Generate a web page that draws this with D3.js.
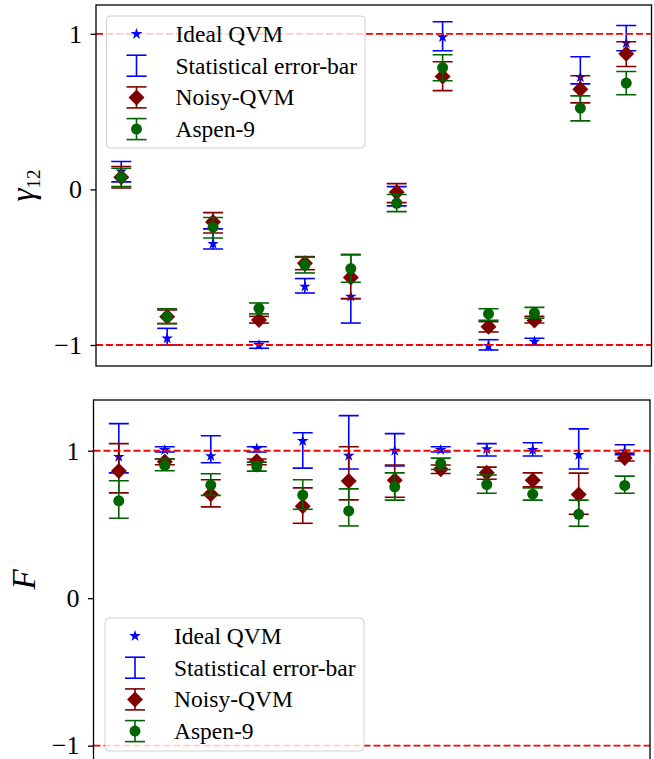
<!DOCTYPE html>
<html lang="en">

<head>
    <meta charset="UTF-8">
    <title>gamma12 and F</title>
    <script src="https://cdn.jsdelivr.net/npm/d3@7"></script>
    <style>
        * {
            margin: 0;
            padding: 0;
        }

        body {
            background: #fff;
        }

        text {
            font-family: "Liberation Serif", "DejaVu Serif", serif;
        }
    </style>
</head>

<body>
</body>
<script>
    const width = 654
    const height = 759

    // index of each run, 0..11
    const runs = d3.range(12)

    // gamma_12 panel
    const gIdeal = [0.115, -0.957, -0.35, -1.0, -0.625, -0.689, -0.044, 0.979, -1.006, -0.979, 0.721, 0.94]
    const gStatLo = [0.048, -1.0, -0.383, -1.021, -0.666, -0.859, -0.106, 0.891, -1.032, -1.0, 0.678, 0.891]
    const gStatHi = [0.179, -0.893, -0.254, -0.979, -0.573, -0.702, 0.018, 1.077, -0.966, -0.957, 0.852, 1.053]
    const gNoisy = [0.078, -0.818, -0.21, -0.839, -0.475, -0.567, -0.018, 0.725, -0.882, -0.843, 0.644, 0.871]
    const gNoisyLo = [0.009, -0.862, -0.28, -0.859, -0.516, -0.702, -0.085, 0.635, -0.916, -0.859, 0.556, 0.79]
    const gNoisyHi = [0.147, -0.775, -0.149, -0.816, -0.432, -0.421, 0.037, 0.82, -0.85, -0.816, 0.73, 0.949]
    const gAspen = [0.078, -0.818, -0.243, -0.764, -0.486, -0.509, -0.089, 0.783, -0.8, -0.794, 0.522, 0.683]
    const gAspenLo = [0.018, -0.863, -0.312, -0.8, -0.537, -0.597, -0.143, 0.698, -0.841, -0.828, 0.44, 0.608]
    const gAspenHi = [0.136, -0.767, -0.181, -0.73, -0.436, -0.417, -0.033, 0.865, -0.767, -0.758, 0.601, 0.758]

    // F panel
    const fIdeal = [0.959, 1.005, 0.964, 1.014, 1.066, 0.966, 1.0, 1.005, 1.011, 1.005, 0.971, 0.996]
    const fStatLo = [0.85, 0.991, 0.918, 0.991, 0.882, 0.876, 0.896, 0.991, 0.964, 0.964, 0.876, 0.973]
    const fStatHi = [1.184, 1.027, 1.102, 1.027, 1.122, 1.238, 1.116, 1.027, 1.048, 1.054, 1.148, 1.041]
    const fNoisy = [0.862, 0.925, 0.705, 0.928, 0.624, 0.794, 0.8, 0.875, 0.85, 0.8, 0.703, 0.95]
    const fNoisyLo = [0.714, 0.905, 0.619, 0.905, 0.508, 0.667, 0.685, 0.846, 0.807, 0.755, 0.569, 0.93]
    const fNoisyHi = [1.048, 0.944, 0.803, 0.944, 0.748, 1.027, 0.903, 0.903, 0.889, 0.85, 0.848, 0.984]
    const fAspen = [0.66, 0.9, 0.767, 0.891, 0.699, 0.592, 0.755, 0.914, 0.771, 0.705, 0.569, 0.765]
    const fAspenLo = [0.542, 0.864, 0.697, 0.862, 0.603, 0.49, 0.665, 0.873, 0.712, 0.665, 0.488, 0.712]
    const fAspenHi = [0.796, 0.944, 0.844, 0.923, 0.803, 0.741, 0.85, 0.95, 0.835, 0.748, 0.665, 0.828]

    const yTicks = [-1, 0, 1]
    const legendLabels = ['Ideal QVM', 'Statistical error-bar', 'Noisy-QVM', 'Aspen-9']

    const blue = '#0000ff'
    const darkred = '#800000'
    const green = '#006400'

    const svg = d3.select('body')
        .append('svg')
        .attr('width', width)
        .attr('height', height)

    const star = d3.symbol().type(d3.symbolStar).size(42)
    const diamond = s => `M0,${-s}L${s},0L0,${s}L${-s},0Z`

    const capHalf = 10

    function errorBars(g, x, y, lo, hi, color) {
        const bars = g.append('g')
            .attr('stroke', color)
            .attr('stroke-width', 1.6)
        bars.selectAll('.bar')
            .data(runs)
            .enter()
            .append('line')
            .attr('x1', i => x(i))
            .attr('x2', i => x(i))
            .attr('y1', i => y(lo[i]))
            .attr('y2', i => y(hi[i]))
        bars.selectAll('.capLo')
            .data(runs)
            .enter()
            .append('line')
            .attr('x1', i => x(i) - capHalf)
            .attr('x2', i => x(i) + capHalf)
            .attr('y1', i => y(lo[i]))
            .attr('y2', i => y(lo[i]))
        bars.selectAll('.capHi')
            .data(runs)
            .enter()
            .append('line')
            .attr('x1', i => x(i) - capHalf)
            .attr('x2', i => x(i) + capHalf)
            .attr('y1', i => y(hi[i]))
            .attr('y2', i => y(hi[i]))
    }

    function legend(box) {
        const lg = svg.append('g')
        lg.append('rect')
            .attr('x', box.x)
            .attr('y', box.y)
            .attr('width', box.w)
            .attr('height', box.h)
            .attr('rx', 4)
            .attr('fill', 'rgba(255,255,255,0.8)')
            .attr('stroke', '#d0d0d0')
            .attr('stroke-width', 1)

        const mx = box.x + 30
        const rowY = i => box.y + 18 + i * 31.7

        // symbols
        lg.append('path')
            .attr('d', star())
            .attr('transform', 'translate(' + mx + ',' + rowY(0) + ')')
            .attr('fill', blue)

        const colors = [null, blue, darkred, green]
        for (let i = 1; i < 4; i++) {
            const yy = rowY(i)
            const s = lg.append('g').attr('stroke', colors[i]).attr('stroke-width', 1.6)
            s.append('line').attr('x1', mx).attr('x2', mx).attr('y1', yy - 10.5).attr('y2', yy + 10.5)
            s.append('line').attr('x1', mx - capHalf).attr('x2', mx + capHalf).attr('y1', yy - 10.5).attr('y2', yy - 10.5)
            s.append('line').attr('x1', mx - capHalf).attr('x2', mx + capHalf).attr('y1', yy + 10.5).attr('y2', yy + 10.5)
        }
        lg.append('path')
            .attr('d', diamond(8))
            .attr('transform', 'translate(' + mx + ',' + rowY(2) + ')')
            .attr('fill', darkred)
        lg.append('circle')
            .attr('cx', mx)
            .attr('cy', rowY(3))
            .attr('r', 5.5)
            .attr('fill', green)

        lg.selectAll('.lgText')
            .data(legendLabels)
            .enter()
            .append('text')
            .attr('x', mx + 39)
            .attr('y', (d, i) => rowY(i))
            .attr('dy', '0.34em')
            .attr('font-size', 23.5)
            .attr('fill', '#000')
            .text(d => d)
    }

    function drawPanel(p) {
        const x = d3.scaleLinear()
            .domain([-0.55, 11.55])
            .range([p.left, p.right])
        const y = d3.scaleLinear()
            .domain(p.yDomain)
            .range([p.bottom, p.top])

        const clipId = 'clip' + p.name
        svg.append('clipPath')
            .attr('id', clipId)
            .append('rect')
            .attr('x', p.left)
            .attr('y', p.top)
            .attr('width', p.right - p.left)
            .attr('height', p.bottom - p.top)

        const g = svg.append('g').attr('clip-path', 'url(#' + clipId + ')')

        // ideal QVM
        g.selectAll('.ideal')
            .data(runs)
            .enter()
            .append('path')
            .attr('d', star())
            .attr('transform', i => 'translate(' + x(i) + ',' + y(p.ideal[i]) + ')')
            .attr('fill', blue)

        errorBars(g, x, y, p.statLo, p.statHi, blue)

        errorBars(g, x, y, p.noisyLo, p.noisyHi, darkred)
        g.selectAll('.noisy')
            .data(runs)
            .enter()
            .append('path')
            .attr('d', diamond(8))
            .attr('transform', i => 'translate(' + x(i) + ',' + y(p.noisy[i]) + ')')
            .attr('fill', darkred)

        errorBars(g, x, y, p.aspenLo, p.aspenHi, green)
        g.selectAll('.aspen')
            .data(runs)
            .enter()
            .append('circle')
            .attr('cx', i => x(i))
            .attr('cy', i => y(p.aspen[i]))
            .attr('r', 5.5)
            .attr('fill', green)

        // reference lines at +1 and -1
        g.selectAll('.ref')
            .data([1, -1])
            .enter()
            .append('line')
            .attr('x1', p.left)
            .attr('x2', p.right)
            .attr('y1', d => y(d))
            .attr('y2', d => y(d))
            .attr('stroke', '#ff0000')
            .attr('stroke-width', 1.8)
            .attr('stroke-dasharray', '7,3')

        const yAxis = d3.axisLeft(y)
            .tickValues(yTicks)
            .tickFormat(d => d < 0 ? '\u2212' + Math.abs(d) : d)
            .tickSize(5.5)
            .tickPadding(8.5)

        const ax = svg.append('g')
            .attr('transform', 'translate(' + p.left + ',0)')
            .call(yAxis)
        ax.select('.domain').remove()
        ax.selectAll('.tick line').attr('stroke-width', 1.3)
        ax.selectAll('.tick text')
            .attr('font-family', '"Liberation Serif", serif')
            .attr('font-size', 26)
            .attr('fill', '#000')

        svg.append('rect')
            .attr('x', p.left)
            .attr('y', p.top)
            .attr('width', p.right - p.left)
            .attr('height', p.bottom - p.top)
            .attr('fill', 'none')
            .attr('stroke', '#000')
            .attr('stroke-width', 1.3)

        legend(p.legend)

        const lab = svg.append('text')
            .attr('transform', 'translate(' + p.labelX + ',' + ((p.top + Math.min(p.bottom, height)) / 2) + ') rotate(-90)')
            .attr('text-anchor', 'middle')
            .attr('font-style', 'italic')
            .attr('font-size', 33)
            .attr('fill', '#000')
        lab.append('tspan').text(p.label)
        if (p.sub) {
            lab.append('tspan')
                .attr('font-style', 'normal')
                .attr('font-size', 19)
                .attr('dy', 6)
                .text(p.sub)
        }
    }

    drawPanel({
        name: 'top', left: 96, right: 651.5, top: 5, bottom: 366,
        yDomain: [-1.135, 1.185],
        ideal: gIdeal, statLo: gStatLo, statHi: gStatHi,
        noisy: gNoisy, noisyLo: gNoisyLo, noisyHi: gNoisyHi,
        aspen: gAspen, aspenLo: gAspenLo, aspenHi: gAspenHi,
        legend: { x: 106.5, y: 16, w: 258.5, h: 132 },
        label: '\u03b3', sub: '12', labelX: 34
    })

    drawPanel({
        name: 'bottom', left: 93.5, right: 650, top: 400, bottom: 770,
        yDomain: [-1.165, 1.344],
        ideal: fIdeal, statLo: fStatLo, statHi: fStatHi,
        noisy: fNoisy, noisyLo: fNoisyLo, noisyHi: fNoisyHi,
        aspen: fAspen, aspenLo: fAspenLo, aspenHi: fAspenHi,
        legend: { x: 105, y: 618, w: 259, h: 133 },
        label: 'F', labelX: 35
    })
</script>

</html>
